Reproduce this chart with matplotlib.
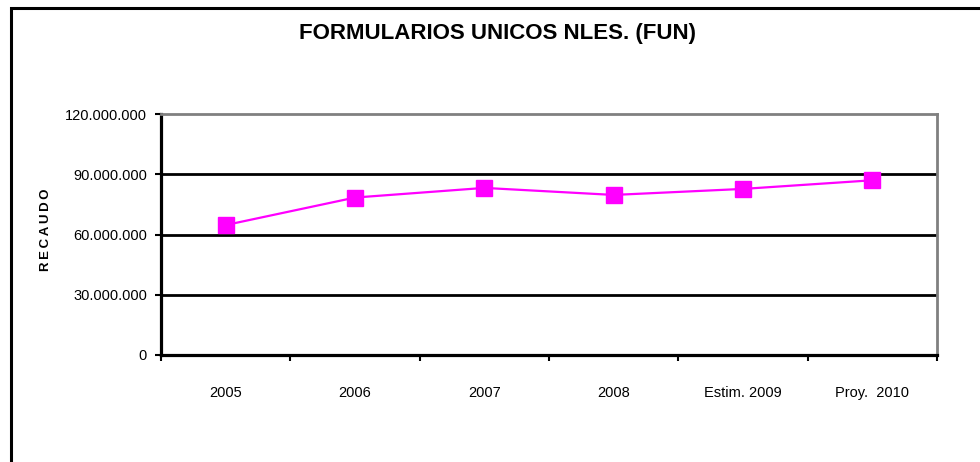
import matplotlib.pyplot as plt
from matplotlib.patches import Rectangle
from matplotlib.ticker import FuncFormatter

categories = ['2005', '2006', '2007', '2008', 'Estim. 2009', 'Proy.  2010']
recaudo = [64700000, 78400000, 83200000, 79700000, 82700000, 87000000]
yticks = [0, 30000000, 60000000, 90000000, 120000000]

plt.rcParams['font.family'] = ['Liberation Sans', 'DejaVu Sans']

fig = plt.figure(figsize=(9.8, 4.62), dpi=100)
# outer chart frame (only left and top edges visible in the crop)
fig.add_artist(Rectangle((11 / 980, -0.1), 1.2, 1 - 8 / 462 + 0.1,
                         transform=fig.transFigure, fill=False,
                         edgecolor='black', linewidth=2.2))

ax = fig.add_axes([161 / 980, 107 / 462, 776 / 980, 241 / 462])
x = list(range(len(categories)))
ax.plot(x, recaudo, color='#ff00ff', linewidth=1.6, marker='s',
        markersize=11.5, markerfacecolor='#ff00ff', markeredgecolor='#ff00ff')

ax.set_xlim(-0.5, len(categories) - 0.5)
ax.set_ylim(0, 120000000)
ax.set_yticks(yticks)
ax.yaxis.set_major_formatter(FuncFormatter(lambda v, p: f'{int(v):,}'.replace(',', '.')))
ax.set_xticks([i - 0.5 for i in range(len(categories) + 1)])
ax.set_xticks(x, minor=True)
ax.set_xticklabels([])
ax.set_xticklabels(categories, minor=True)
ax.tick_params(axis='x', which='minor', length=0, pad=22, labelsize=10.5)
ax.tick_params(axis='x', which='major', length=4, width=1.5, direction='out')
ax.tick_params(axis='y', length=4, width=1.5, direction='out', pad=6, labelsize=10.5)

for y in yticks[1:-1]:
    ax.axhline(y, color='black', linewidth=2, zorder=1)

ax.spines['left'].set_linewidth(2.3)
ax.spines['bottom'].set_linewidth(2.3)
ax.spines['top'].set_color('#808080')
ax.spines['right'].set_color('#808080')
ax.spines['top'].set_linewidth(2)
ax.spines['right'].set_linewidth(2)

ax.set_ylabel('R\u2009E\u2009C\u2009A\u2009U\u2009D\u2009O', fontsize=9.5, fontweight='bold')
ax.yaxis.set_label_coords(-0.14, 0.52)

fig.text(497 / 980, 1 - 33 / 462, 'FORMULARIOS UNICOS NLES. (FUN)',
         ha='center', va='center', fontsize=16, fontweight='bold')

fig.savefig('out.png', dpi=100)
